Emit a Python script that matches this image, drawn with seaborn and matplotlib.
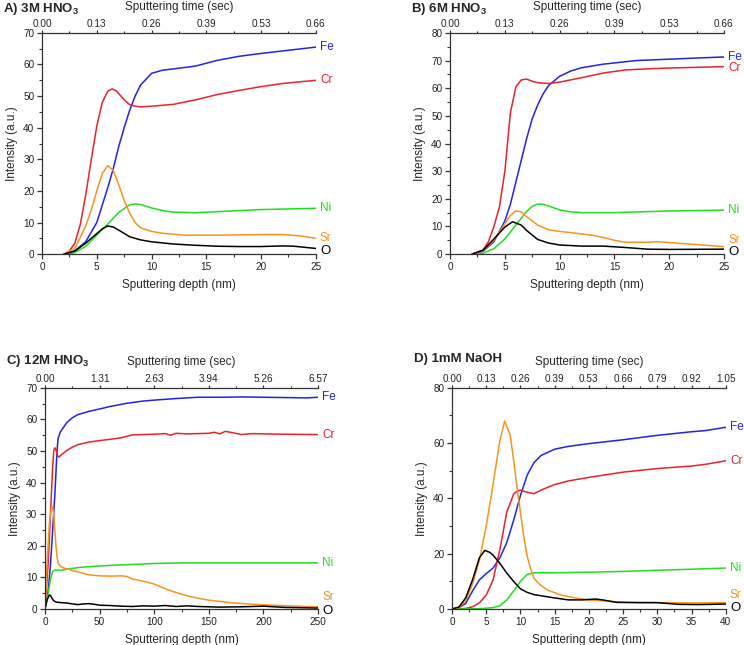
import matplotlib.pyplot as plt
import seaborn as sns
from matplotlib.ticker import AutoMinorLocator, MultipleLocator

# ---- Panel A: 3M HNO3 ----
a_fe_x = [2, 3, 4, 5, 5.5, 6, 6.5, 7, 7.5, 8, 8.5, 9, 10, 11, 12, 14, 16, 18, 20, 22, 25]
a_fe_y = [0, 1, 4, 10, 15.5, 21, 27, 34, 40, 45.5, 50, 53.5, 57.2, 58.2, 58.6, 59.5, 61.3, 62.6, 63.5, 64.3, 65.5]
a_cr_x = [2, 2.5, 3, 3.5, 4, 4.5, 5, 5.5, 6, 6.4, 6.8, 7.2, 7.6, 8, 8.5, 9, 10, 12, 14, 16, 18, 20, 22, 25]
a_cr_y = [0, 1, 3.5, 9.5, 19, 30, 40.5, 48, 51.5, 52.3, 51.6, 50, 48.5, 47.3, 46.8, 46.6, 46.8, 47.4, 48.8, 50.5, 51.8, 53, 54, 55]
a_sr_x = [2, 3, 4, 4.5, 5, 5.5, 6, 6.5, 7, 7.5, 8, 8.5, 9, 10, 11, 13, 16, 20, 22, 23.5, 25]
a_sr_y = [0, 1.8, 9, 14, 20, 25.5, 28, 26.5, 22, 17, 13, 10, 8.3, 7.2, 6.6, 6.0, 6.0, 6.2, 6.2, 5.8, 5.0]
a_ni_x = [2.5, 3, 4, 5, 6, 7, 8, 8.5, 9, 10, 11, 12, 14, 17, 20, 25]
a_ni_y = [0, 0.5, 2.5, 6, 9.5, 13.2, 15.6, 15.9, 15.7, 14.6, 13.8, 13.3, 13.1, 13.6, 14.1, 14.5]
a_o_x = [2, 3, 4, 5, 5.5, 6, 6.5, 7, 8, 9, 10, 12, 14, 16, 18, 20, 22, 23, 25]
a_o_y = [0, 1, 3.5, 6.5, 8, 8.9, 8.6, 7.6, 5.5, 4.5, 3.9, 3.2, 2.8, 2.5, 2.4, 2.4, 2.6, 2.5, 1.8]

# ---- Panel B: 6M HNO3 ----
b_fe_x = [2, 3, 4, 5, 5.5, 6, 6.5, 7, 7.5, 8, 8.5, 9, 10, 11, 12, 14, 17, 20, 25]
b_fe_y = [0, 1, 4.5, 12, 18, 26, 34, 42, 49, 54, 58, 61, 64.3, 66.2, 67.4, 68.7, 70, 70.5, 71.3]
b_cr_x = [2, 3, 3.5, 4, 4.5, 5, 5.5, 6, 6.5, 7, 7.5, 8, 9, 10, 11, 12, 14, 16, 18, 20, 25]
b_cr_y = [0, 1.5, 4.5, 10, 17, 30, 51, 60.5, 63, 63.3, 62.5, 62, 61.7, 62.2, 63, 63.8, 65.5, 66.6, 67, 67.3, 67.8]
b_sr_x = [2, 3, 4, 5, 5.5, 6, 6.5, 7, 8, 9, 10, 11, 12, 13, 14, 15, 16, 18, 19, 20, 22, 25]
b_sr_y = [0, 1.2, 5, 11, 14, 15.6, 15.3, 13.5, 10.5, 8.8, 8.2, 7.8, 7.3, 6.8, 6, 5, 4.3, 4.3, 4.5, 4.2, 3.6, 2.7]
b_ni_x = [2.5, 3, 4, 5, 6, 7, 7.5, 8, 8.5, 9, 10, 11, 12, 15, 20, 25]
b_ni_y = [0, 0.3, 2, 5.5, 10.5, 15.5, 17.3, 18.1, 18, 17.4, 16, 15.3, 15.0, 15.0, 15.6, 15.9]
b_o_x = [2, 3, 4, 5, 5.7, 6.5, 7, 8, 9, 10, 12, 14, 16, 18, 20, 25]
b_o_y = [0, 1.4, 5.5, 9.8, 11.7, 10.5, 8.5, 5.3, 4.0, 3.3, 2.9, 2.9, 2.4, 1.8, 1.7, 1.8]

# ---- Panel C: 12M HNO3 ----
c_fe_x = [0, 3, 5, 7, 9, 10, 11, 12, 14, 17, 20, 25, 30, 40, 50, 60, 75, 90, 100, 120, 140,
          160, 180, 200, 220, 240, 250]
c_fe_y = [0, 6, 14, 25, 36, 43, 50, 54, 56, 57.5, 59, 60.5, 61.5, 62.5, 63.3, 64.1, 65.1, 65.8,
          66.1, 66.6, 67.0, 67.0, 67.1, 67.0, 66.9, 66.8, 67.0]
c_cr_x = [0, 3, 5, 7, 8, 9, 10, 11, 12, 13, 15, 20, 25, 30, 40, 50, 60, 70, 80, 100, 110, 115,
          120, 130, 140, 150, 155, 160, 165, 170, 180, 190, 200, 220, 250]
c_cr_y = [0, 15, 30, 45, 50, 51, 50.5, 49, 48.2, 48.1, 48.8, 50.2, 51.2, 52, 52.8, 53.3, 53.7,
          54.2, 55.1, 55.3, 55.5, 55.0, 55.6, 55.4, 55.5, 55.6, 55.9, 55.4, 56.2, 55.9, 55.2,
          55.5, 55.4, 55.3, 55.2]
c_sr_x = [0, 2, 4, 6, 7, 8, 9, 10, 11, 12, 14, 17, 20, 25, 30, 40, 50, 60, 70, 75, 80, 90, 100,
          110, 120, 130, 140, 150, 170, 190, 210, 230, 250]
c_sr_y = [0, 15, 27, 32.5, 32, 30, 25, 20, 16.5, 14.5, 13.5, 13.0, 12.7, 12.2, 11.8, 10.8, 10.5,
          10.4, 10.5, 10.3, 9.5, 8.8, 7.9, 6.4, 5.2, 4.2, 3.4, 2.8, 2.0, 1.5, 1.2, 0.9, 0.7]
c_ni_x = [0, 3, 5, 7, 9, 12, 15, 20, 30, 40, 60, 80, 100, 130, 160, 200, 250]
c_ni_y = [0, 5, 9.5, 11.8, 12.3, 12.3, 12.3, 12.6, 13.1, 13.4, 13.8, 14.1, 14.4, 14.6, 14.6,
          14.6, 14.6]
c_o_x = [0, 2, 4, 5, 6, 8, 10, 15, 20, 25, 30, 35, 40, 45, 50, 60, 70, 80, 90, 100, 110, 120,
         130, 140, 160, 180, 200, 220, 250]
c_o_y = [0, 3, 4.4, 4.3, 3.6, 2.6, 2.2, 2.0, 1.9, 1.6, 1.4, 1.6, 1.7, 1.5, 1.2, 1.1, 0.9, 0.8,
         1.0, 0.9, 1.1, 0.8, 1.0, 0.8, 0.6, 0.7, 0.9, 0.5, 0.3]

# ---- Panel D: 1mM NaOH ----
d_fe_x = [0, 1, 2, 3, 4, 5, 6, 7, 8, 9, 10, 11, 12, 13, 15, 17, 20, 25, 30, 35, 37, 40]
d_fe_y = [0, 0.5, 2, 6.5, 10.5, 12.8, 14.8, 18.5, 24, 32, 41, 48.5, 53, 55.5, 57.8, 58.8, 59.8,
          61.2, 62.8, 64.1, 64.5, 65.7]
d_cr_x = [0, 2, 3, 4, 5, 6, 7, 8, 9, 9.5, 10, 11, 12, 13, 15, 17, 20, 25, 30, 35, 37, 40]
d_cr_y = [0, 0.2, 0.8, 2.2, 5, 10.5, 21.5, 35, 41.5, 42.6, 43, 42.2, 41.7, 43, 45, 46.3, 47.6,
          49.5, 50.8, 51.7, 52.3, 53.6]
d_sr_x = [0, 1, 2, 3, 4, 5, 6, 7, 7.7, 8.5, 9, 9.5, 10, 10.5, 11, 11.5, 12, 13, 14, 16, 18, 20,
          25, 30, 35, 40]
d_sr_y = [0, 0.5, 3, 9, 17.5, 30, 45, 61, 68, 63, 54, 44, 35, 26, 19, 14.5, 11, 8.5, 6.8, 5, 4,
          3.3, 2.5, 2.3, 2.2, 2.3]
d_ni_x = [0, 4, 6, 7, 8, 9, 10, 11, 12, 15, 20, 25, 30, 35, 40]
d_ni_y = [0, 0.1, 0.5, 1.2, 3.3, 6.5, 10, 12.5, 13.1, 13.1, 13.3, 13.6, 14, 14.4, 14.8]
d_o_x = [0, 1, 2, 3, 4, 4.8, 5.5, 6, 7, 8, 9, 10, 11, 12, 13, 15, 17, 19, 21, 22, 24, 27, 30,
         33, 36, 40]
d_o_y = [0, 0.7, 4, 10.5, 18.5, 21.2, 20.5, 19.5, 16.5, 13, 10, 7.3, 6, 5.2, 4.8, 4.0, 3.3, 3.3,
         3.6, 3.3, 2.4, 2.3, 2.3, 1.7, 1.6, 1.8]

# top axis (sputtering time) labels
time_ab = ["0.00", "0.13", "0.26", "0.39", "0.53", "0.66"]
time_c = ["0.00", "1.31", "2.63", "3.94", "5.26", "6.57"]
time_d = ["0.00", "0.13", "0.26", "0.39", "0.53", "0.66", "0.79", "0.92", "1.05"]

colors = {"Fe": "#2323e0", "Cr": "#e8232a", "Ni": "#22dd22", "Sr": "#f7941d", "O": "black"}

sns.set_style("ticks")
plt.rcParams["font.family"] = ["Liberation Sans", "DejaVu Sans"]
plt.rcParams["mathtext.fontset"] = "custom"
plt.rcParams["mathtext.rm"] = "Liberation Sans"
plt.rcParams["mathtext.bf"] = "Liberation Sans:bold"

fig = plt.figure(figsize=(7.44, 6.45), dpi=100)

panels = [
    dict(rect=[0.0565, 0.606, 0.368, 0.343], title=r"A) 3M HNO$_\mathbf{3}$", tpos=(0.004, 0.998),
         series={"Fe": (a_fe_x, a_fe_y), "Cr": (a_cr_x, a_cr_y), "Ni": (a_ni_x, a_ni_y),
                 "Sr": (a_sr_x, a_sr_y), "O": (a_o_x, a_o_y)},
         xmax=25, xstep=5, ymax=70, ystep=10, times=time_ab,
         dy={"Fe": 0, "Cr": 0, "Ni": 0, "Sr": 0, "O": -3}),
    dict(rect=[0.605, 0.606, 0.368, 0.343], title=r"B) 6M HNO$_\mathbf{3}$", tpos=(0.553, 0.998),
         series={"Fe": (b_fe_x, b_fe_y), "Cr": (b_cr_x, b_cr_y), "Ni": (b_ni_x, b_ni_y),
                 "Sr": (b_sr_x, b_sr_y), "O": (b_o_x, b_o_y)},
         xmax=25, xstep=5, ymax=80, ystep=10, times=time_ab,
         dy={"Fe": 0, "Cr": -1, "Ni": 0, "Sr": 7, "O": -3}),
    dict(rect=[0.0605, 0.0558, 0.367, 0.343], title=r"C) 12M HNO$_\mathbf{3}$", tpos=(0.008, 0.452),
         series={"Fe": (c_fe_x, c_fe_y), "Cr": (c_cr_x, c_cr_y), "Ni": (c_ni_x, c_ni_y),
                 "Sr": (c_sr_x, c_sr_y), "O": (c_o_x, c_o_y)},
         xmax=250, xstep=50, ymax=70, ystep=10, times=time_c,
         dy={"Fe": 0, "Cr": 0, "Ni": 0, "Sr": 10, "O": -3}),
    dict(rect=[0.6075, 0.0558, 0.368, 0.343], title="D) 1mM NaOH", tpos=(0.556, 0.452),
         series={"Fe": (d_fe_x, d_fe_y), "Cr": (d_cr_x, d_cr_y), "Ni": (d_ni_x, d_ni_y),
                 "Sr": (d_sr_x, d_sr_y), "O": (d_o_x, d_o_y)},
         xmax=40, xstep=5, ymax=80, ystep=20, times=time_d,
         dy={"Fe": 0, "Cr": 0, "Ni": 0, "Sr": 8, "O": -4}),
]

for p in panels:
    ax = fig.add_axes(p["rect"])
    for name, (xs, ys) in p["series"].items():
        sns.lineplot(x=xs, y=ys, ax=ax, color=colors[name], lw=1.1, sort=False, estimator=None)
        ax.annotate(name, xy=(xs[-1], ys[-1]), xytext=(3, p["dy"][name] * 0.72),
                    textcoords="offset points", ha="left", va="center",
                    color=colors[name], fontsize=9.5 if name == "O" else 8.5,
                    annotation_clip=False)

    ax.set_xlim(0, p["xmax"])
    ax.set_ylim(0, p["ymax"])
    ax.xaxis.set_major_locator(MultipleLocator(p["xstep"]))
    ax.xaxis.set_minor_locator(AutoMinorLocator(2))
    ax.yaxis.set_major_locator(MultipleLocator(p["ystep"]))
    ax.yaxis.set_minor_locator(AutoMinorLocator(2))
    ax.set_xlabel("Sputtering depth (nm)", fontsize=8.5, labelpad=5)
    ax.set_ylabel("Intensity (a.u.)", fontsize=8.5, labelpad=4)
    ax.tick_params(which="major", direction="out", length=3.5, width=0.9, labelsize=7.2,
                   colors="#333333", labelcolor="#222222", pad=2)
    ax.tick_params(which="minor", direction="out", length=2, width=0.8, colors="#333333")
    ax.spines["right"].set_visible(False)
    ax.spines["top"].set_visible(False)
    for s in ["left", "bottom"]:
        ax.spines[s].set_color("#333333")
        ax.spines[s].set_linewidth(0.9)

    top = ax.secondary_xaxis("top")
    ticks = [i * p["xstep"] for i in range(len(p["times"]))]
    top.set_xticks(ticks, p["times"])
    top.xaxis.set_minor_locator(AutoMinorLocator(2))
    top.tick_params(which="major", direction="out", length=2.5, width=0.9, labelsize=7.2,
                    colors="#333333", labelcolor="#222222", pad=0)
    top.tick_params(which="minor", direction="out", length=1.8, width=0.8, colors="#333333")
    top.spines["top"].set_color("#333333")
    top.spines["top"].set_linewidth(0.9)
    top.set_xlabel("Sputtering time (sec)", fontsize=8.5, labelpad=7)

    fig.text(p["tpos"][0], p["tpos"][1], p["title"], fontsize=9.5, fontweight="bold",
             ha="left", va="top")

plt.savefig("out.png", dpi=100)
